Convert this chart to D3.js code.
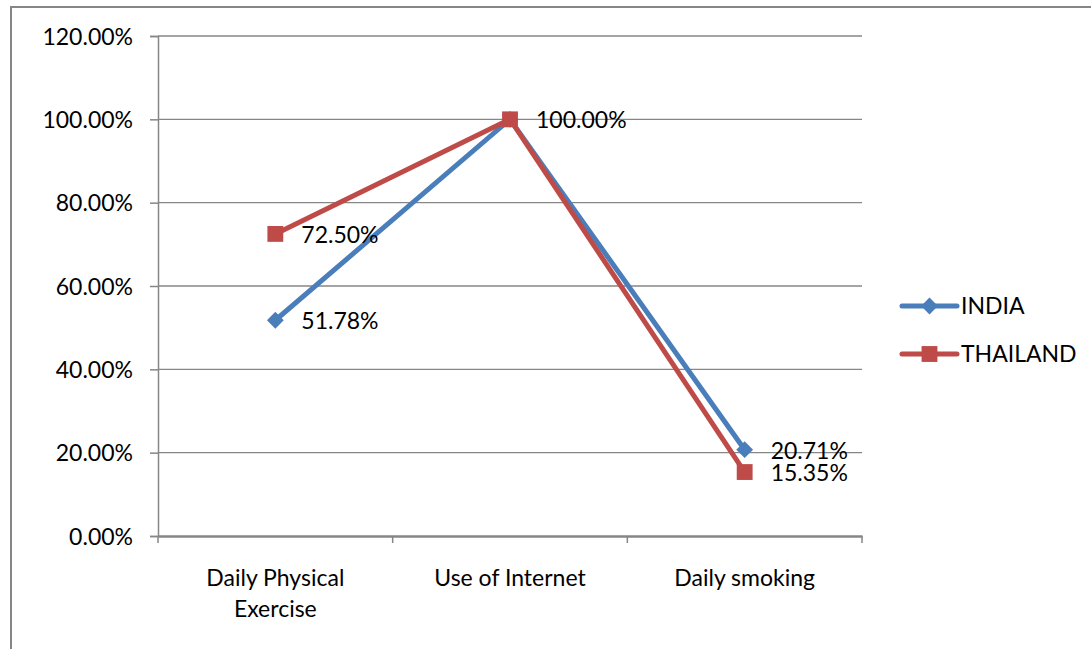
<!DOCTYPE html>
<html>
<head>
<meta charset="utf-8">
<script src="https://cdn.jsdelivr.net/npm/d3@7"></script>
<style>
  body { margin: 0; background: #fff; }
  svg text { font-family: Lato, "Open Sans", sans-serif; fill: #000; }
</style>
</head>
<body>
<div id="chart"></div>
<script>
// Chart data.
var categories = [['Daily Physical', 'Exercise'], ['Use of Internet'], ['Daily smoking']];
var seriesNames = ['INDIA', 'THAILAND'];
var indiaValues = [0.5178, 1.0, 0.2071];
var thailandValues = [0.725, 1.0, 0.1535];
var yTicks = [0, 0.2, 0.4, 0.6, 0.8, 1.0, 1.2];

var width = 1091, height = 649;
var fontSize = '23px';
var colors = { INDIA: '#4A7EBB', THAILAND: '#BE4B48' };

var svg = d3.select('#chart').append('svg')
    .attr('width', width)
    .attr('height', height);

// Outer chart border.
svg.append('rect')
    .attr('x', 11).attr('y', 7)
    .attr('width', width + 10).attr('height', height + 10)
    .attr('fill', 'none')
    .attr('stroke', '#868686')
    .attr('stroke-width', 2);

var plot = { left: 158, right: 862, top: 36, bottom: 536 };

var x = d3.scaleBand()
    .domain(d3.range(categories.length))
    .range([plot.left, plot.right]);

var y = d3.scaleLinear()
    .domain([0, 1.2])
    .range([plot.bottom, plot.top]);

// Gridlines.
svg.append('g')
    .selectAll('line')
    .data(yTicks.slice(1))
    .enter()
    .append('line')
    .attr('x1', plot.left).attr('x2', plot.right)
    .attr('y1', function(d) { return y(d); })
    .attr('y2', function(d) { return y(d); })
    .attr('stroke', '#868686')
    .attr('stroke-width', 1.3);

// Y axis.
var yAxis = svg.append('g')
    .attr('transform', 'translate(' + plot.left + ',0)')
    .call(d3.axisLeft(y).tickValues(yTicks).tickSize(8).tickPadding(17)
        .tickFormat(d3.format('.2%')));
yAxis.selectAll('path, line').attr('stroke', '#868686').attr('stroke-width', 1.5);
yAxis.selectAll('text').style('font-size', fontSize).attr('dy', '0.35em');

// X axis.
var xAxis = svg.append('g')
    .attr('transform', 'translate(0,' + plot.bottom + ')')
    .call(d3.axisBottom(x).tickSize(0).tickFormat(''));
xAxis.select('path').attr('stroke', '#868686').attr('stroke-width', 2.5);

// Category boundary ticks.
svg.append('g')
    .selectAll('line')
    .data(d3.range(categories.length + 1))
    .enter()
    .append('line')
    .attr('x1', function(i) { return plot.left + i * x.step(); })
    .attr('x2', function(i) { return plot.left + i * x.step(); })
    .attr('y1', plot.bottom)
    .attr('y2', plot.bottom + 7)
    .attr('stroke', '#868686')
    .attr('stroke-width', 1.5);

// Category labels.
svg.append('g')
    .selectAll('text')
    .data(categories)
    .enter()
    .append('text')
    .attr('text-anchor', 'middle')
    .style('font-size', fontSize)
    .each(function(lines, i) {
        var t = d3.select(this);
        lines.forEach(function(s, j) {
            t.append('tspan')
                .attr('x', x(i) + x.bandwidth() / 2)
                .attr('y', 586 + j * 31)
                .text(s);
        });
    });

var cx = function(d, i) { return x(i) + x.bandwidth() / 2; };
var line = d3.line().x(cx).y(function(d) { return y(d); });

function drawSeries(name, values, marker) {
    var g = svg.append('g');
    g.append('path')
        .datum(values)
        .attr('d', line)
        .attr('fill', 'none')
        .attr('stroke', colors[name])
        .attr('stroke-width', 5)
        .attr('stroke-linejoin', 'round');
    g.selectAll('.mk')
        .data(values)
        .enter()
        .append('path')
        .attr('d', marker)
        .attr('transform', function(d, i) { return 'translate(' + cx(d, i) + ',' + y(d) + ')'; })
        .attr('fill', colors[name]);
}

var diamond = d3.symbol().type(d3.symbolDiamond2).size(180)();
var square = d3.symbol().type(d3.symbolSquare2).size(320)();

drawSeries('INDIA', indiaValues, diamond);
drawSeries('THAILAND', thailandValues, square);

// Data labels (the 100% point is labelled once).
var labels = [
    { i: 0, v: indiaValues[0] },
    { i: 0, v: thailandValues[0] },
    { i: 1, v: thailandValues[1] },
    { i: 2, v: indiaValues[2] },
    { i: 2, v: thailandValues[2] }
];
svg.append('g')
    .selectAll('text')
    .data(labels)
    .enter()
    .append('text')
    .attr('x', function(d) { return cx(d.v, d.i) + 26; })
    .attr('y', function(d) { return y(d.v) + 1; })
    .attr('dy', '0.35em')
    .style('font-size', fontSize)
    .text(function(d) { return d3.format('.2%')(d.v); });

// Legend.
var legend = svg.append('g')
    .selectAll('g')
    .data(seriesNames)
    .enter()
    .append('g')
    .attr('transform', function(d, i) { return 'translate(902,' + (306 + i * 48) + ')'; });
legend.append('line')
    .attr('x1', 0).attr('x2', 55)
    .attr('stroke', function(d) { return colors[d]; })
    .attr('stroke-width', 5)
    .attr('stroke-linecap', 'round');
legend.append('path')
    .attr('transform', 'translate(27.5,0)')
    .attr('d', function(d) { return d === 'INDIA' ? diamond : square; })
    .attr('fill', function(d) { return colors[d]; });
legend.append('text')
    .attr('x', 59)
    .attr('dy', '0.35em')
    .style('font-size', fontSize)
    .text(function(d) { return d; });
</script>
</body>
</html>
